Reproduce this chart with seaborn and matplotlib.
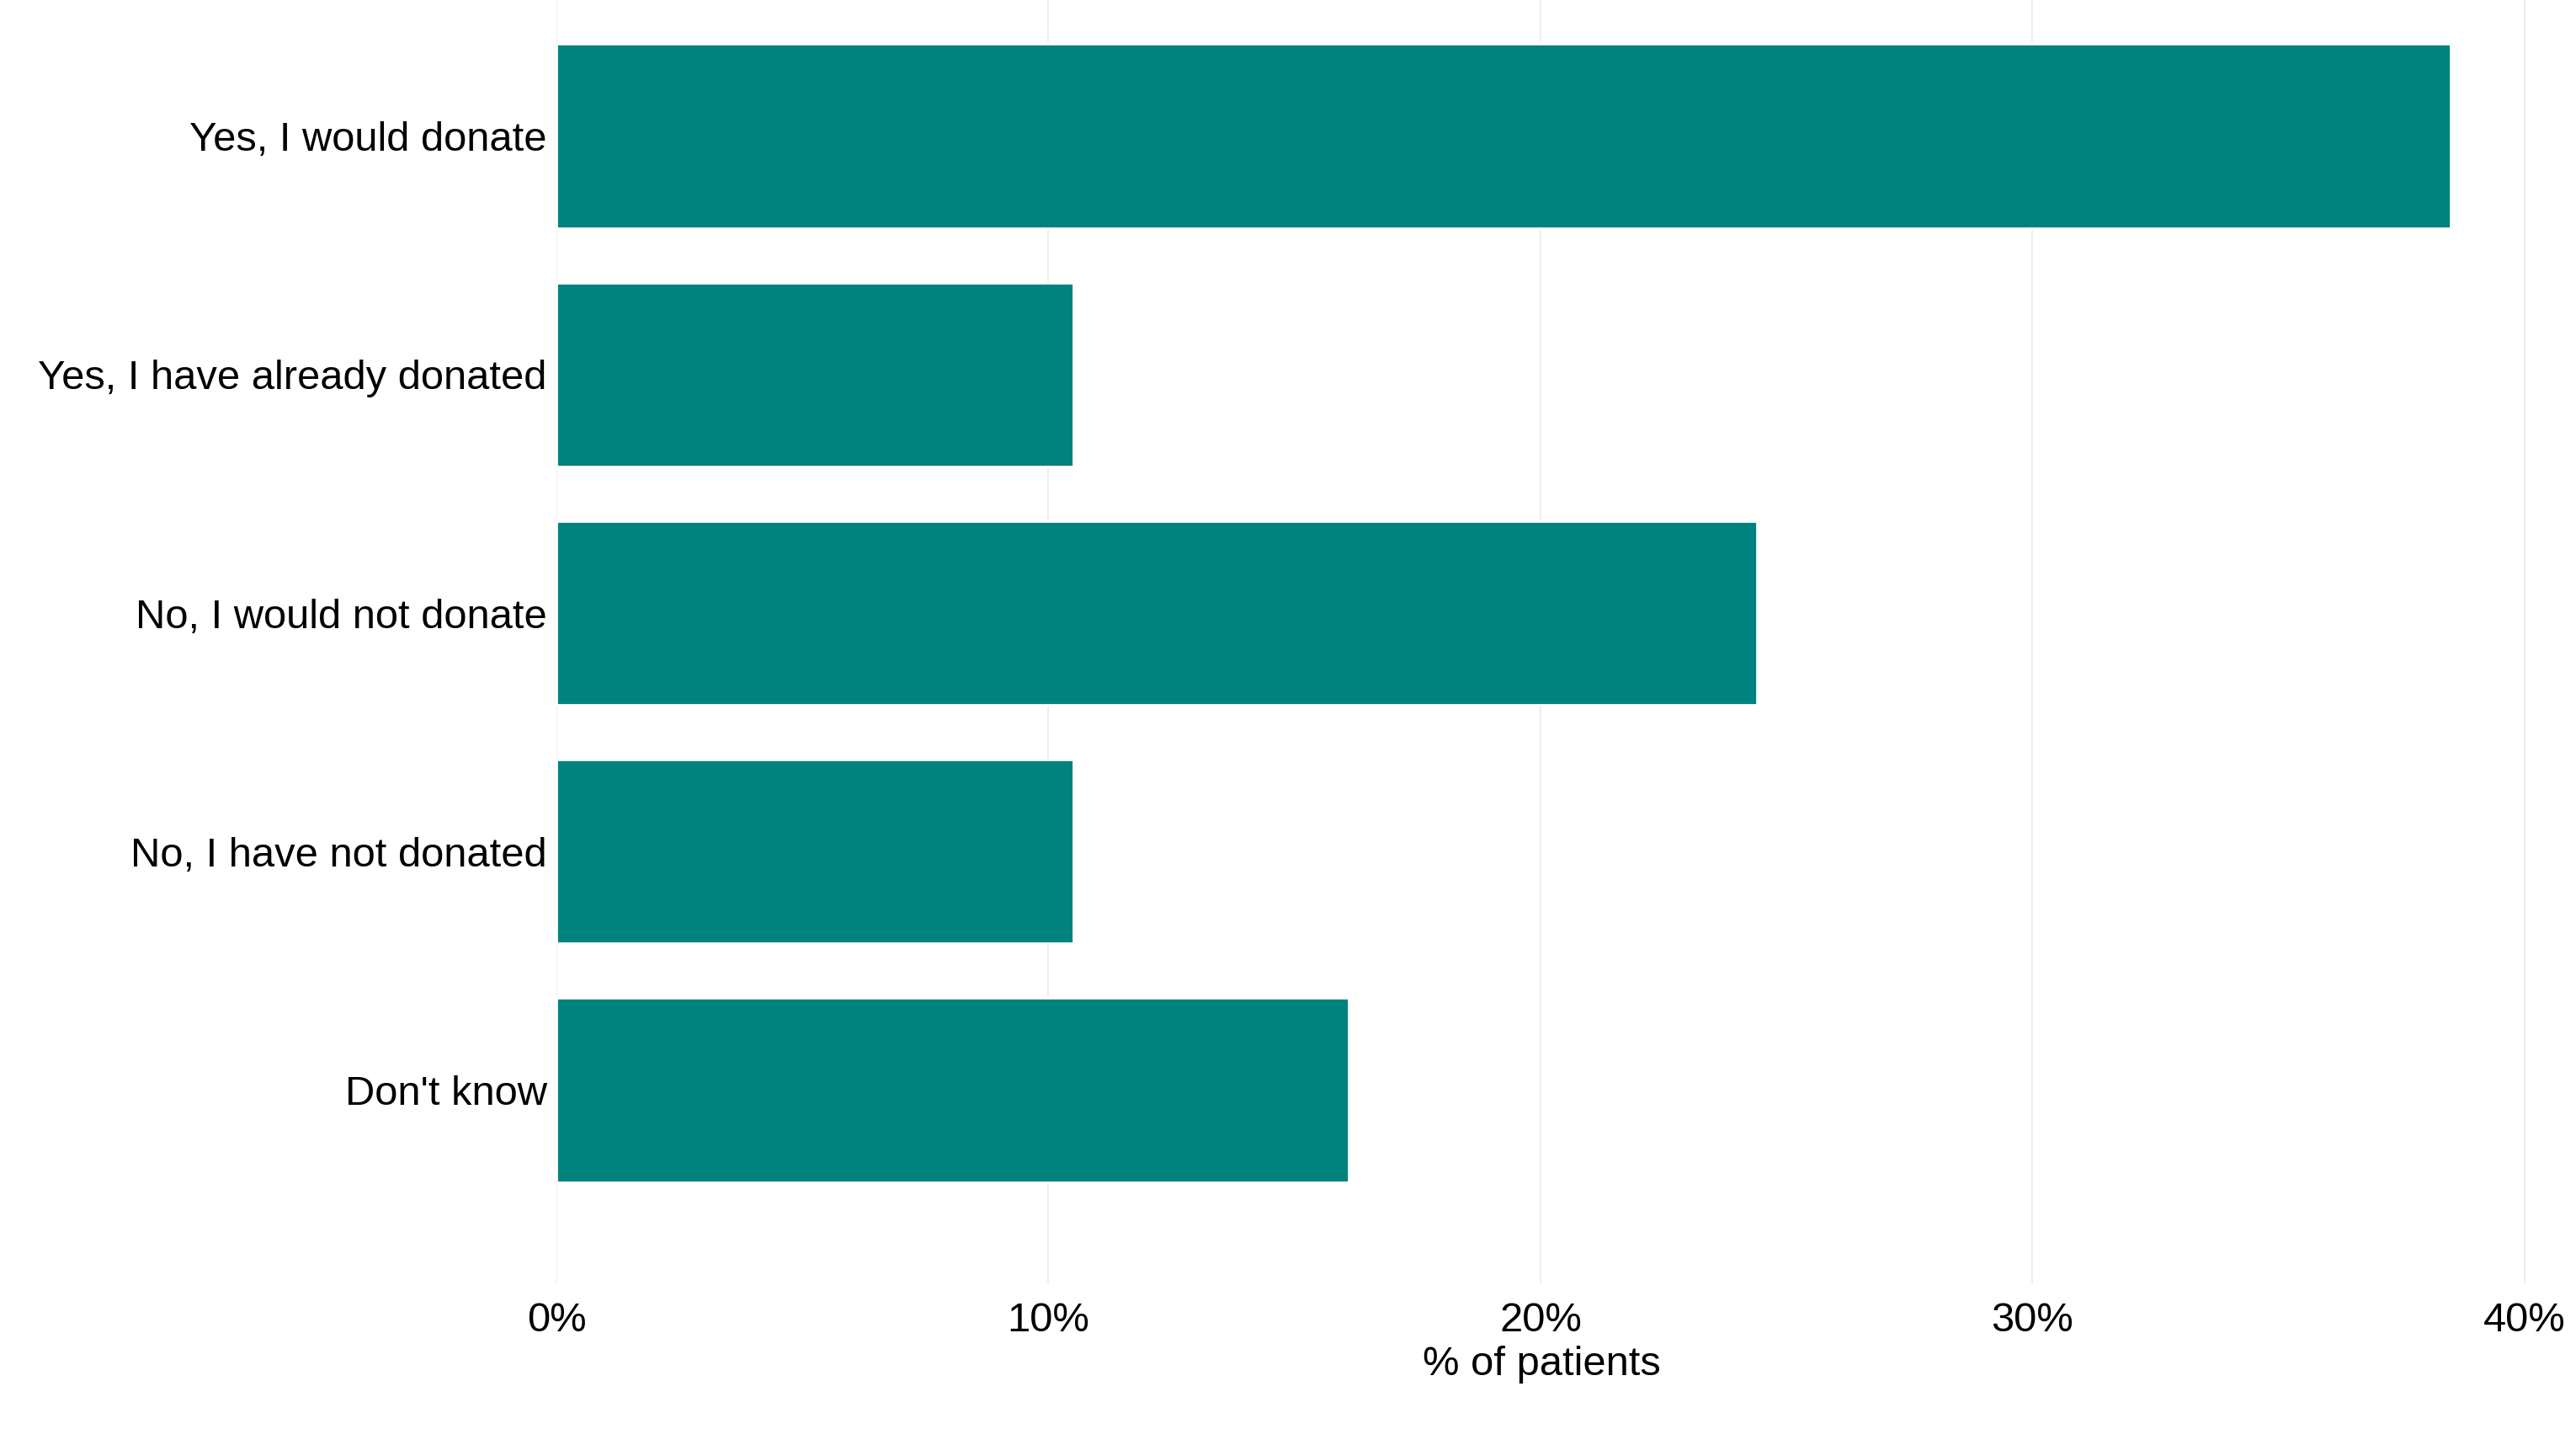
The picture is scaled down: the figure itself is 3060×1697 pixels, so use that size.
import pandas as pd
import matplotlib.pyplot as plt
import seaborn as sns
from matplotlib.ticker import PercentFormatter

sns.set_theme(style="white")
plt.rcParams['font.family'] = ['Liberation Sans', 'DejaVu Sans']

categories = ["Yes, I would donate", "Yes, I have already donated",
              "No, I would not donate", "No, I have not donated", "Don't know"]
values = [38.5, 10.5, 24.4, 10.5, 16.1]
ticks = [0, 10, 20, 30, 40]

df = pd.DataFrame({"answer": categories, "pct": values})

fig = plt.figure(figsize=(15.3, 8.485), dpi=200)
ax = fig.add_axes([0.216, 1 - 1524 / 1697, 0.981 - 0.216, 1524 / 1697])

sns.barplot(data=df, y="answer", x="pct", order=categories, color="#00827F",
            saturation=1, width=0.77, ax=ax)

ax.set_xlim(0, 40.05)
ax.set_ylim(4.81, -0.57)
ax.set_xticks(ticks)
ax.xaxis.set_major_formatter(PercentFormatter(decimals=0))
ax.grid(axis="x", color="#EBEBEB", linewidth=0.6)
ax.set_axisbelow(True)
for s in ax.spines.values():
    s.set_visible(False)
ax.tick_params(axis="both", length=0, labelsize=17.6, colors="black")
ax.tick_params(axis="x", pad=8)
ax.tick_params(axis="y", pad=4)
ax.set_ylabel("")
ax.set_xlabel("% of patients", fontsize=17.6, color="black", labelpad=2.5)

fig.savefig("out.png", dpi=200, facecolor="white")
